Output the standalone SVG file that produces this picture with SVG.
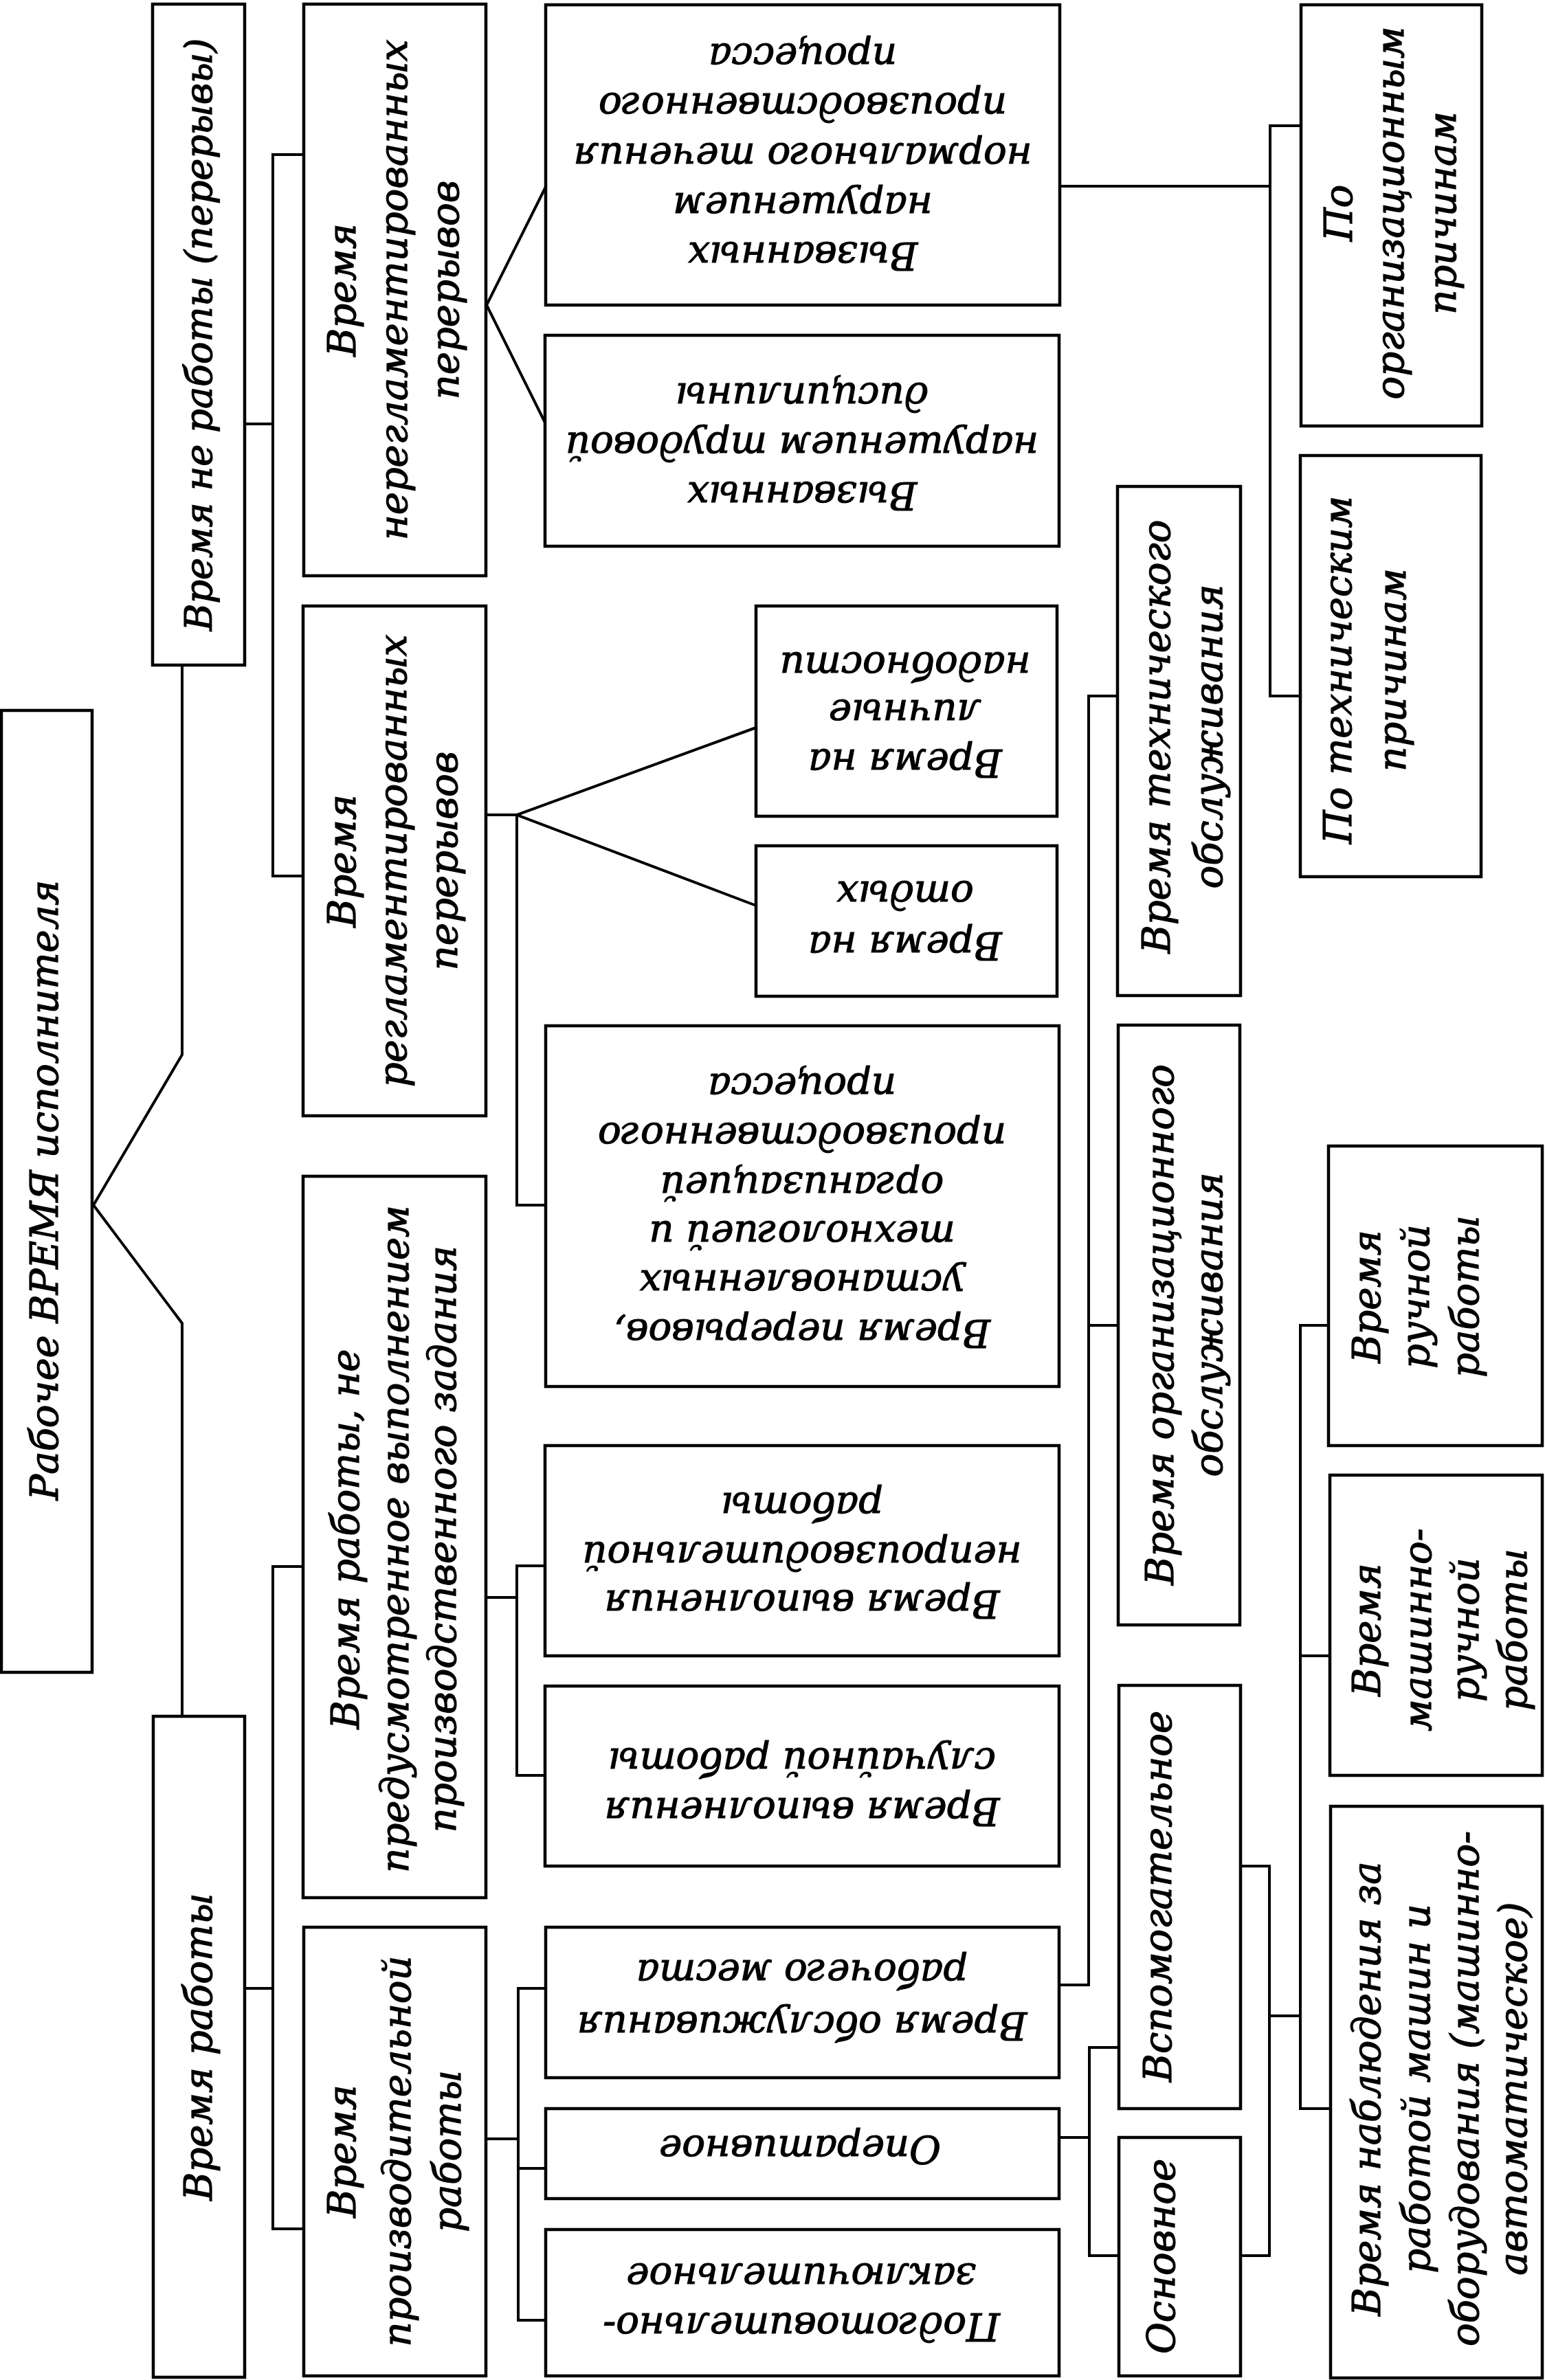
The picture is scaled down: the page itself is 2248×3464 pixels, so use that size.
<svg xmlns="http://www.w3.org/2000/svg" width="2248" height="3464" viewBox="0 0 2248 3464">
<style>
.b{fill:#fff;stroke:#000;stroke-width:4.5}
.c{fill:none;stroke:#000;stroke-width:4}
.t{font-family:"DejaVu Serif",serif;font-style:italic;font-size:56px;fill:#000;stroke:#000;stroke-width:1.2;text-anchor:middle;dominant-baseline:central}
</style>
<rect width="2248" height="3464" fill="#fff"/>
<g id="connectors">
<polyline class="c" points="265,968 265,1535 136,1754 265,1926 265,2498"/>
<polyline class="c" points="356,617 397,617"/>
<polyline class="c" points="442,225 397,225 397,1275 441,1275"/>
<polyline class="c" points="794,272 708,444 794,617"/>
<polyline class="c" points="1542,271 1848,271"/>
<polyline class="c" points="1893,183 1848,183 1848,1013 1892,1013"/>
<polyline class="c" points="707,1186 752,1186 752,1754 794,1754"/>
<polyline class="c" points="1100,1059 752,1186 1100,1318"/>
<polyline class="c" points="356,2894 397,2894"/>
<polyline class="c" points="441,2280 397,2280 397,3244 442,3244"/>
<polyline class="c" points="707,2325 752,2325"/>
<polyline class="c" points="793,2279 752,2279 752,2584 793,2584"/>
<polyline class="c" points="707,3113 754,3113"/>
<polyline class="c" points="794,2894 754,2894 754,3377 794,3377"/>
<polyline class="c" points="754,3156 794,3156"/>
<polyline class="c" points="1541,2889 1584,2889 1584,1013 1626,1013"/>
<polyline class="c" points="1584,1929 1627,1929"/>
<polyline class="c" points="1541,3111 1585,3111"/>
<polyline class="c" points="1628,2980 1585,2980 1585,3283 1628,3283"/>
<polyline class="c" points="1805,2716 1847,2716 1847,3283 1805,3283"/>
<polyline class="c" points="1847,2934 1892,2934"/>
<polyline class="c" points="1933,1929 1892,1929 1892,3069 1936,3069"/>
<polyline class="c" points="1892,2410 1935,2410"/>
</g>
<g id="root">
<rect class="b" x="2" y="1034" width="132" height="1400"/>
<text class="t" transform="translate(64,1732) rotate(-90)">Рабочее ВРЕМЯ исполнителя</text>
</g>
<g id="n-nework">
<rect class="b" x="222" y="6" width="134" height="962"/>
<text class="t" style="font-size:54px" transform="translate(289,487) rotate(-90)">Время не работы (перерывы)</text>
</g>
<g id="n-unreg">
<rect class="b" x="442" y="6" width="265" height="832"/>
<text class="t" transform="translate(497,422) rotate(-90)">Время</text>
<text class="t" transform="translate(572,422) rotate(-90)">нерегламентированных</text>
<text class="t" transform="translate(647,422) rotate(-90)">перерывов</text>
</g>
<g id="n-viol-proc">
<rect class="b" x="794" y="7" width="748" height="437"/>
<text class="t" transform="translate(1168,372) rotate(180)">Вызванных</text>
<text class="t" transform="translate(1168,300) rotate(180)">нарушением</text>
<text class="t" transform="translate(1168,228) rotate(180)">нормального течения</text>
<text class="t" transform="translate(1168,155) rotate(180)">производственного</text>
<text class="t" transform="translate(1168,83) rotate(180)">процесса</text>
</g>
<g id="n-viol-disc">
<rect class="b" x="793" y="488" width="748" height="307"/>
<text class="t" transform="translate(1167,721) rotate(180)">Вызванных</text>
<text class="t" transform="translate(1167,649) rotate(180)">нарушением трудовой</text>
<text class="t" transform="translate(1167,577) rotate(180)">дисциплины</text>
</g>
<g id="n-org-reasons">
<rect class="b" x="1893" y="7" width="263" height="613"/>
<text class="t" transform="translate(1947,310) rotate(-90)">По</text>
<text class="t" transform="translate(2022,310) rotate(-90)">организационным</text>
<text class="t" transform="translate(2098,310) rotate(-90)">причинам</text>
</g>
<g id="n-tech-reasons">
<rect class="b" x="1892" y="663" width="263" height="613"/>
<text class="t" transform="translate(1946,975) rotate(-90)">По техническим</text>
<text class="t" transform="translate(2025,975) rotate(-90)">причинам</text>
</g>
<g id="n-reg">
<rect class="b" x="441" y="882" width="266" height="742"/>
<text class="t" transform="translate(497,1253) rotate(-90)">Время</text>
<text class="t" transform="translate(571,1253) rotate(-90)">регламентированных</text>
<text class="t" transform="translate(645,1253) rotate(-90)">перерывов</text>
</g>
<g id="n-personal">
<rect class="b" x="1100" y="882" width="438" height="306"/>
<text class="t" transform="translate(1317,1110) rotate(180)">Время на</text>
<text class="t" transform="translate(1317,1038) rotate(180)">личные</text>
<text class="t" transform="translate(1317,969) rotate(180)">надобности</text>
</g>
<g id="n-rest">
<rect class="b" x="1100" y="1231" width="438" height="219"/>
<text class="t" transform="translate(1317,1376) rotate(180)">Время на</text>
<text class="t" transform="translate(1317,1302) rotate(180)">отдых</text>
</g>
<g id="n-tech-breaks">
<rect class="b" x="794" y="1493" width="747" height="525"/>
<text class="t" transform="translate(1167,1940) rotate(180)">Время перерывов,</text>
<text class="t" transform="translate(1167,1868) rotate(180)">установленных</text>
<text class="t" transform="translate(1167,1797) rotate(180)">технологией и</text>
<text class="t" transform="translate(1167,1726) rotate(180)">организацией</text>
<text class="t" transform="translate(1167,1654) rotate(180)">производственного</text>
<text class="t" transform="translate(1167,1582) rotate(180)">процесса</text>
</g>
<g id="n-tech-service">
<rect class="b" x="1626" y="708" width="179" height="741"/>
<text class="t" transform="translate(1682,1072) rotate(-90)">Время технического</text>
<text class="t" transform="translate(1758,1072) rotate(-90)">обслуживания</text>
</g>
<g id="n-org-service">
<rect class="b" x="1627" y="1492" width="177" height="873"/>
<text class="t" transform="translate(1687,1928) rotate(-90)">Время организационного</text>
<text class="t" transform="translate(1758,1928) rotate(-90)">обслуживания</text>
</g>
<g id="n-manual">
<rect class="b" x="1933" y="1668" width="311" height="436"/>
<text class="t" transform="translate(1988,1887) rotate(-90)">Время</text>
<text class="t" transform="translate(2059,1887) rotate(-90)">ручной</text>
<text class="t" transform="translate(2131,1887) rotate(-90)">работы</text>
</g>
<g id="n-machine-manual">
<rect class="b" x="1935" y="2147" width="309" height="437"/>
<text class="t" transform="translate(1988,2372) rotate(-90)">Время</text>
<text class="t" transform="translate(2062,2372) rotate(-90)">машинно-</text>
<text class="t" transform="translate(2131,2372) rotate(-90)">ручной</text>
<text class="t" transform="translate(2201,2372) rotate(-90)">работы</text>
</g>
<g id="n-observe">
<rect class="b" x="1936" y="2629" width="308" height="832"/>
<text class="t" transform="translate(1988,3040) rotate(-90)">Время наблюдения за</text>
<text class="t" transform="translate(2060,3040) rotate(-90)">работой машин и</text>
<text class="t" transform="translate(2131,3040) rotate(-90)">оборудования (машинно-</text>
<text class="t" transform="translate(2201,3040) rotate(-90)">автоматическое)</text>
</g>
<g id="n-nonprod">
<rect class="b" x="441" y="1712" width="266" height="1050"/>
<text class="t" transform="translate(502,2240) rotate(-90)">Время работы, не</text>
<text class="t" transform="translate(574,2240) rotate(-90)">предусмотренное выполнением</text>
<text class="t" transform="translate(643,2240) rotate(-90)">производственного задания</text>
</g>
<g id="n-unproductive">
<rect class="b" x="793" y="2104" width="748" height="306"/>
<text class="t" transform="translate(1167,2334) rotate(180)">Время выполнения</text>
<text class="t" transform="translate(1167,2264) rotate(180)">непроизводительной</text>
<text class="t" transform="translate(1167,2192) rotate(180)">работы</text>
</g>
<g id="n-random">
<rect class="b" x="793" y="2454" width="748" height="262"/>
<text class="t" transform="translate(1167,2636) rotate(180)">Время выполнения</text>
<text class="t" transform="translate(1167,2564) rotate(180)">случайной работы</text>
</g>
<g id="n-work">
<rect class="b" x="223" y="2498" width="133" height="962"/>
<text class="t" transform="translate(288,2979) rotate(-90)">Время работы</text>
</g>
<g id="n-productive">
<rect class="b" x="442" y="2805" width="265" height="653"/>
<text class="t" transform="translate(497,3131) rotate(-90)">Время</text>
<text class="t" transform="translate(577,3131) rotate(-90)">производительной</text>
<text class="t" transform="translate(650,3131) rotate(-90)">работы</text>
</g>
<g id="n-workplace">
<rect class="b" x="794" y="2805" width="747" height="219"/>
<text class="t" transform="translate(1167,2948) rotate(180)">Время обслуживания</text>
<text class="t" transform="translate(1167,2872) rotate(180)">рабочего места</text>
</g>
<g id="n-operative">
<rect class="b" x="794" y="3069" width="747" height="131"/>
<text class="t" transform="translate(1164,3128) rotate(180)">Оперативное</text>
</g>
<g id="n-prep">
<rect class="b" x="794" y="3245" width="747" height="213"/>
<text class="t" transform="translate(1166,3386) rotate(180)">Подготовительно-</text>
<text class="t" transform="translate(1166,3314) rotate(180)">заключительное</text>
</g>
<g id="n-aux">
<rect class="b" x="1628" y="2453" width="177" height="616"/>
<text class="t" transform="translate(1684,2760) rotate(-90)">Вспомогательное</text>
</g>
<g id="n-main">
<rect class="b" x="1628" y="3111" width="177" height="347"/>
<text class="t" transform="translate(1689,3284) rotate(-90)">Основное</text>
</g>
</svg>
